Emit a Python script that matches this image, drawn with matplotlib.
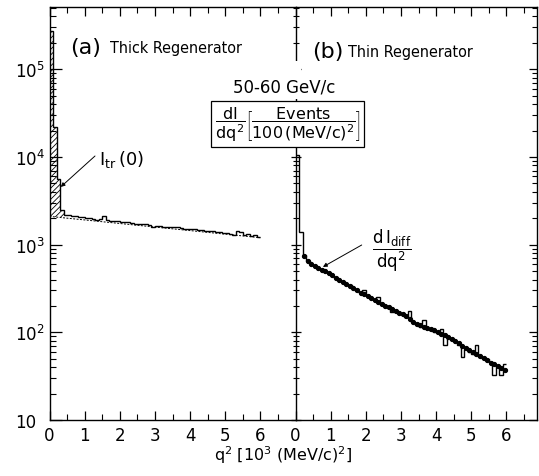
import numpy as np
import matplotlib
matplotlib.use("Agg")
import matplotlib.pyplot as plt
from matplotlib.ticker import FixedLocator, FixedFormatter, LogLocator, NullFormatter
from matplotlib.patches import Rectangle

# ---------------- data ----------------
bin_edges = np.round(np.arange(0.0, 6.0001, 0.1), 2)

# (a) thick regenerator histogram, events per 100 (MeV/c)^2
thick_counts = [270000, 22000, 5600, 2500,
                2200, 2150, 2130, 2100, 2080, 2040, 2000, 2010, 1960, 1900,
                1980, 2100, 1920, 1860, 1880, 1850, 1820, 1800, 1790, 1760,
                1700, 1740, 1720, 1700, 1660, 1600, 1650, 1640, 1610, 1590,
                1580, 1600, 1570, 1530, 1520, 1510, 1490, 1500, 1460, 1450,
                1430, 1440, 1420, 1390, 1410, 1370, 1350, 1330, 1300, 1420,
                1400, 1280, 1330, 1260, 1300, 1220]
# incoherent background fit under the thick-regenerator peak
bg_q2 = [0.0, 6.0]
bg_val = [2100, 1200]
hatch_bins = 4

# (b) thin regenerator histogram
thin_counts = [10500, 1400, 760, 650, 600, 565, 540, 520, 505, 475,
               440, 420, 400, 375, 355, 345, 320, 295, 280, 300,
               265, 245, 235, 250, 205, 198, 190, 170, 175, 168,
               160, 150, 175, 130, 122, 115, 138, 110, 106, 100,
               97, 108, 72, 88, 82, 80, 72, 52, 64, 60,
               57, 72, 52, 50, 49, 46, 33, 42, 33, 44]
# dI_diff/dq^2 points
diff_q2 = np.round(np.arange(0.25, 6.0, 0.1), 2)
diff_val = [750, 650, 595, 565, 535, 515, 500, 475, 445, 420,
            400, 378, 358, 340, 322, 300, 284, 270, 260, 248,
            235, 220, 210, 200, 193, 185, 177, 168, 162, 152,
            142, 132, 125, 120, 116, 112, 108, 105, 100, 96,
            92, 88, 84, 80, 75, 70, 67, 63, 60, 57,
            53, 51, 48, 45, 43, 41, 39, 37]

ytick_vals = [10, 100, 1000, 10000, 100000]
ytick_labels = ['10', r'$10^2$', r'$10^3$', r'$10^4$', r'$10^5$']
xtick_vals = [0, 1, 2, 3, 4, 5, 6]
xtick_labels = ['0', '1', '2', '3', '4', '5', '6']
xminor_vals = [0.5, 1.5, 2.5, 3.5, 4.5, 5.5, 6.5]

# ---------------- style ----------------
plt.rcParams['font.family'] = ['DejaVu Sans']
plt.rcParams['mathtext.fontset'] = 'custom'
plt.rcParams['mathtext.rm'] = 'DejaVu Sans'
plt.rcParams['mathtext.it'] = 'DejaVu Sans'
plt.rcParams['mathtext.bf'] = 'DejaVu Sans'
plt.rcParams['hatch.linewidth'] = 0.6

W, H = 539, 477
fig = plt.figure(figsize=(W / 100, H / 100), dpi=100)

def fx(px):
    return px / W

def fy(py):
    return 1 - py / H

x0, xdiv, xend = 49.5, 295.5, 537.0
ytop, ybot = 7.5, 421.0
ppu = (xdiv - x0) / 7.0
ylim = (10, 5.2e5)

axL = fig.add_axes([fx(x0), fy(ybot), (xdiv - x0) / W, (ybot - ytop) / H])
axR = fig.add_axes([fx(xdiv), fy(ybot), (xend - xdiv) / W, (ybot - ytop) / H])
axD = fig.add_axes([fx(xdiv), fy(ybot), (xend - xdiv) / W, (ybot - ytop) / H])

for ax in (axL, axR, axD):
    ax.set_yscale('log')
    ax.set_ylim(*ylim)
axL.set_xlim(0, 7)
axR.set_xlim(0, (xend - xdiv) / ppu)
axD.set_xlim(0, (xend - xdiv) / ppu)

def style_x(ax):
    ax.xaxis.set_major_locator(FixedLocator(xtick_vals))
    ax.xaxis.set_major_formatter(FixedFormatter(xtick_labels))
    ax.xaxis.set_minor_locator(FixedLocator(xminor_vals))
    ax.tick_params(axis='x', which='major', direction='in', top=True, bottom=True,
                   length=6.5, width=0.9, labelsize=12, pad=4)
    ax.tick_params(axis='x', which='minor', direction='in', top=True, bottom=True,
                   length=4, width=0.8)

style_x(axL)
style_x(axR)

minor_loc = LogLocator(base=10, subs=np.arange(2, 10), numticks=20)
for ax in (axL, axR, axD):
    ax.yaxis.set_major_locator(FixedLocator(ytick_vals))
    ax.yaxis.set_minor_locator(minor_loc)
    ax.yaxis.set_minor_formatter(NullFormatter())

axL.yaxis.set_major_formatter(FixedFormatter(ytick_labels))
axL.tick_params(axis='y', which='major', direction='in', left=True, right=False,
                length=8.5, width=0.9, labelsize=12, pad=24.5)
axL.tick_params(axis='y', which='minor', direction='in', left=True, right=False,
                length=4.3, width=0.8)
for lab in axL.get_yticklabels():
    lab.set_horizontalalignment('left')
axL.spines['right'].set_visible(False)

axR.tick_params(axis='y', which='both', direction='in', left=False, right=True,
                labelleft=False, labelright=False)
axR.tick_params(axis='y', which='major', length=5.8, width=0.9)
axR.tick_params(axis='y', which='minor', length=3.6, width=0.8)

axD.patch.set_visible(False)
for s in axD.spines.values():
    s.set_visible(False)
axD.set_xticks([])
axD.tick_params(axis='y', which='both', direction='inout', left=True, right=False,
                labelleft=False)
axD.tick_params(axis='y', which='major', length=7, width=0.9)
axD.tick_params(axis='y', which='minor', length=5, width=0.8)

for ax in (axL, axR):
    for s in ax.spines.values():
        s.set_linewidth(1.0)

# ---------------- (a) thick regenerator ----------------
axL.stairs(thick_counts, bin_edges, color='black', lw=1.0, baseline=None)
axL.plot(bg_q2, bg_val, color='black', lw=0.7, ls=(0, (2, 1.5)))
hx = bin_edges[:hatch_bins + 1]
hb = 10 ** np.interp(hx, bg_q2, np.log10(bg_val))
ht = list(thick_counts[:hatch_bins]) + [thick_counts[hatch_bins - 1]]
axL.fill_between(hx, hb, ht, step='post', facecolor='none', edgecolor='black',
                 hatch='//////', linewidth=0)

# ---------------- (b) thin regenerator ----------------
axR.stairs(thin_counts, bin_edges, color='black', lw=1.0, baseline=None)
axR.plot(diff_q2, diff_val, 'o', color='black', ms=2.8, mec='black')

# ---------------- texts ----------------
def fp(px, py):
    return (px, H - py)

fig.text(fx(70), fy(48), '(a)', fontsize=16, va='center', ha='left')
fig.text(fx(110), fy(48), 'Thick Regenerator', fontsize=11.5, fontstretch='condensed',
         va='center', ha='left')
fig.text(fx(312), fy(52), '(b)', fontsize=16, va='center', ha='left')
fig.text(fx(348), fy(52), 'Thin Regenerator', fontsize=11.5, fontstretch='condensed',
         va='center', ha='left')

fig.patches.append(Rectangle((fx(290), fy(100)), 11 / W, 38 / H, transform=fig.transFigure,
                             facecolor='white', edgecolor='none', zorder=1))
fig.text(fx(284), fy(88), '50-60 GeV/c', fontsize=12, va='center', ha='center', zorder=3)
fig.text(fx(287.5), fy(125),
         r'$\dfrac{dI}{dq^2}\left[\dfrac{\mathrm{Events}}{100\,(\mathrm{MeV/c})^2}\right]$',
         fontsize=11.5, va='center', ha='center', zorder=3,
         bbox=dict(boxstyle='square,pad=0.2', facecolor='white', edgecolor='black', lw=0.9))

# annotation I_tr(0)
tgtL = (0.32, 4.55e3)
axL.annotate('', xy=tgtL, xycoords='data', xytext=fp(95, 157), textcoords='figure pixels',
             arrowprops=dict(arrowstyle='-|>', lw=0.7, color='black', shrinkA=0, shrinkB=0,
                             mutation_scale=6))
fig.text(fx(99), fy(160), r'$\mathrm{I}_{\mathrm{tr}}\,(0)$', fontsize=13, va='center', ha='left')

# annotation dI_diff/dq^2
tgtR = (0.78, 557)
axR.annotate('', xy=tgtR, xycoords='data', xytext=fp(361.7, 246), textcoords='figure pixels',
             arrowprops=dict(arrowstyle='-|>', lw=0.7, color='black', shrinkA=0, shrinkB=0,
                             mutation_scale=6))
fig.text(fx(392), fy(251), r'$\dfrac{d\,\mathrm{I}_{\mathrm{diff}}}{dq^2}$', fontsize=12,
         va='center', ha='center')

# x label
fig.text(fx(283), fy(455), r'q$^2$ [10$^3$ (MeV/c)$^2$]', fontsize=11.5,
         va='center', ha='center')

fig.savefig('out.png', dpi=100)
